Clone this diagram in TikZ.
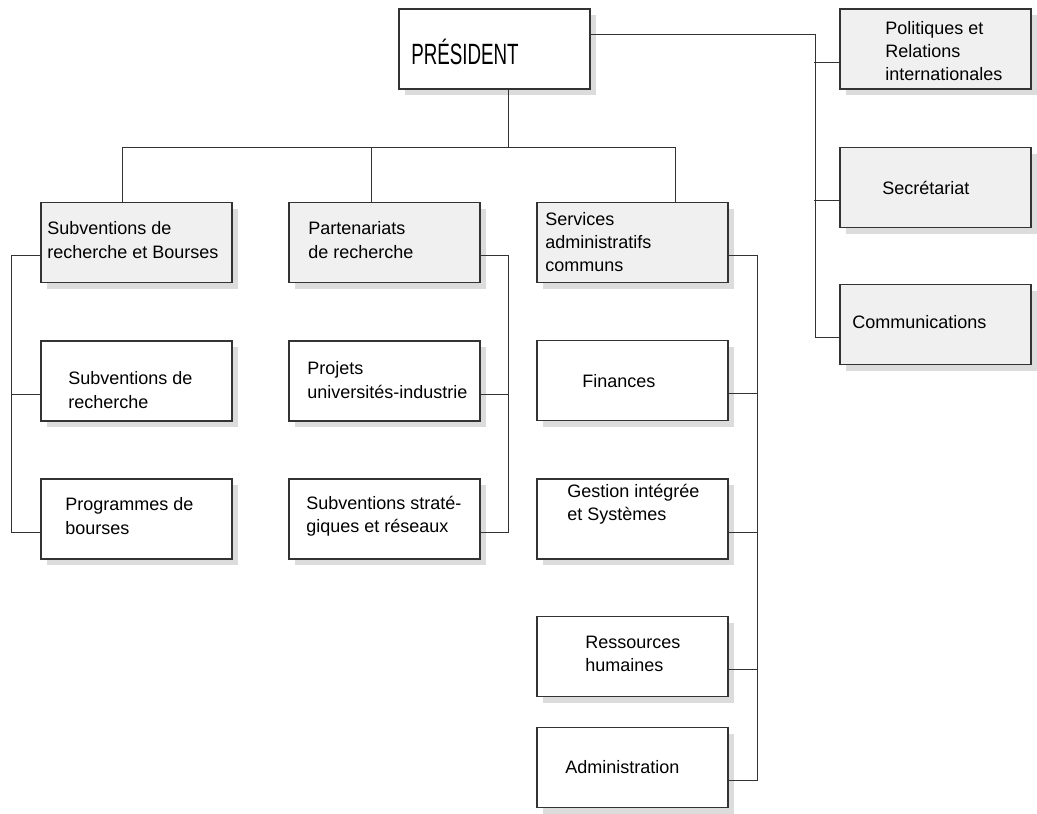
\documentclass[tikz,border=0pt]{standalone}
\usepackage{fontspec}
\setmainfont{Liberation Sans}
\newfontfamily\presfont[FakeStretch=0.64]{Liberation Sans}
\usetikzlibrary{shadows}
\definecolor{boxgray}{HTML}{F0F0F0}
\definecolor{shadowgray}{HTML}{DCDCDC}
\definecolor{linegray}{HTML}{333333}
\tikzset{
  orgbox/.style={draw=linegray, line width=0.9pt, fill=white, minimum width=143.25pt,
    minimum height=60pt, inner sep=0pt,
    drop shadow={shadow xshift=4.5pt, shadow yshift=-4.5pt, fill=shadowgray, opacity=1}},
  unitbox/.style={orgbox, fill=boxgray},
  orgtext/.style={anchor=west, inner sep=0pt, align=left, font=\fontsize{13.5}{17.5}\selectfont},
  link/.style={draw=linegray, line width=0.7pt}
}
\begin{document}
\begin{tikzpicture}[x=0.75pt,y=-0.75pt]
\useasboundingbox (0,0) rectangle (1037,813);

% boxes
\node[orgbox] (pres) at (494.5,49) {};
\node[unitbox] (pol) at (935.5,49) {};
\node[unitbox] (sec) at (935.5,187.5) {};
\node[unitbox] (com) at (935.5,324.5) {};
\node[unitbox] (srb) at (136.5,242.5) {};
\node[unitbox] (par) at (384.5,242.5) {};
\node[unitbox] (sac) at (632.5,242.5) {};
\node[orgbox] (sdr) at (136.5,381) {};
\node[orgbox] (pdb) at (136.5,519) {};
\node[orgbox] (pui) at (384.5,381) {};
\node[orgbox] (ssr) at (384.5,519) {};
\node[orgbox] (fin) at (632.5,380.5) {};
\node[orgbox] (gis) at (632.5,519) {};
\node[orgbox] (rh) at (632.5,656.5) {};
\node[orgbox] (adm) at (632.5,767.5) {};

% texts
\node[orgtext, font=\presfont\fontsize{22}{26}\selectfont] (pres-t) at (411,51.5) {PRÉSIDENT};
\node[orgtext] (pol-t) at (885,51) {Politiques et\\Relations\\internationales};
\node[orgtext] (sec-t) at (882,188) {Secrétariat};
\node[orgtext] (com-t) at (852,322) {Communications};
\node[orgtext] (srb-t) at (47,240) {Subventions de\\recherche et Bourses};
\node[orgtext] (par-t) at (308,240) {Partenariats\\de recherche};
\node[orgtext] (sac-t) at (545,242) {Services\\administratifs\\communs};
\node[orgtext] (sdr-t) at (68,390) {Subventions de\\recherche};
\node[orgtext] (pdb-t) at (65,516) {Programmes de\\bourses};
\node[orgtext] (pui-t) at (307,380) {Projets\\universités-industrie};
\node[orgtext] (ssr-t) at (306,516) {Subventions straté-\\giques et réseaux};
\node[orgtext] (fin-t) at (582,381) {Finances};
\node[orgtext] (gis-t) at (567,504) {Gestion intégrée\\et Systèmes};
\node[orgtext] (rh-t) at (585,654) {Ressources\\humaines};
\node[orgtext] (adm-t) at (565,767) {Administration};

% president to the three directorates
\coordinate (hub) at (508,147);
\coordinate (br-srb) at (122,147);
\coordinate (br-par) at (371,147);
\coordinate (br-sac) at (675,147);
\draw[link] (pres.south -| hub) -- (hub);
\draw[link] (br-srb) -- (br-sac);
\foreach \b in {srb,par,sac}
  \draw[link] (br-\b) -- (br-\b |- \b.north);

% staff units on the right
\coordinate (staff) at (815,34);
\draw[link] (pres.east |- staff) -- (staff) |- ([yshift=-10pt]com.west);
\foreach \b in {pol,sec}
  \draw[link] ([yshift=-10pt]\b.west) -- ++(-25,0);

% left column
\draw[link] ([yshift=-10pt]srb.west) -- ++(-29,0) |- ([yshift=-10pt]pdb.west);
\draw[link] ([yshift=-10pt]sdr.west) -- ++(-29,0);

% middle column
\draw[link] ([yshift=-10pt]par.east) -- ++(28,0) |- ([yshift=-10pt]ssr.east);
\draw[link] ([yshift=-10pt]pui.east) -- ++(28,0);

% right column
\draw[link] ([yshift=-10pt]sac.east) -- ++(29,0) |- ([yshift=-10pt]adm.east);
\foreach \b in {fin,gis,rh}
  \draw[link] ([yshift=-10pt]\b.east) -- ++(29,0);
\end{tikzpicture}
\end{document}
